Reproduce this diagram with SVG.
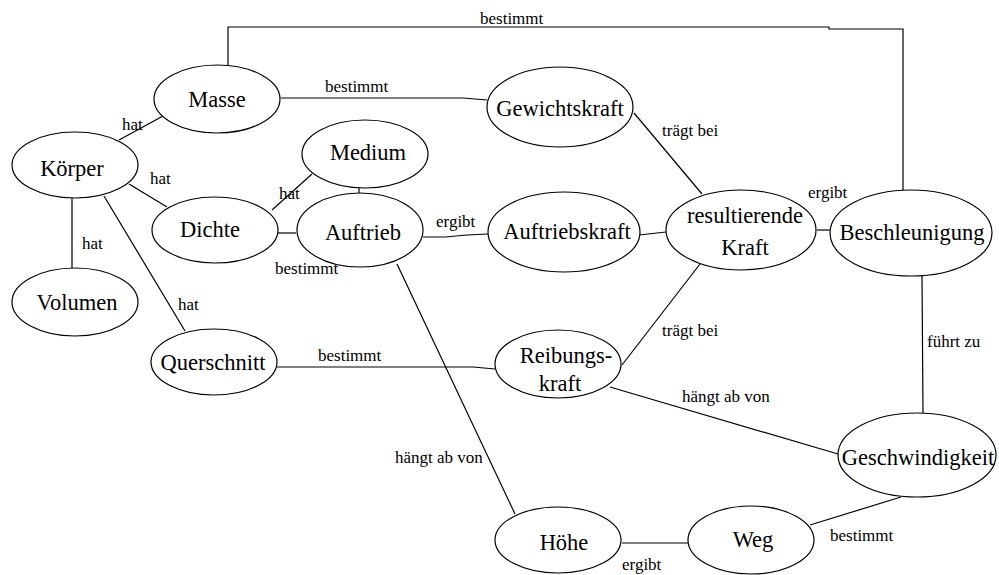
<svg xmlns="http://www.w3.org/2000/svg" width="999" height="575" viewBox="0 0 999 575">
<style>
.n{fill:#fff;stroke:#000;stroke-width:1.2}
.t{font-size:22.5px;fill:#000;text-anchor:middle}
.l{font-size:17px;fill:#000}
.c{fill:none;stroke:#000;stroke-width:1.2}
</style>
<rect width="999" height="575" fill="#fff"/>
<g id="connectors">
<polyline class="c" points="228,65 228,27 829,27 829,29 903,29 903,190"/>
<polyline class="c" points="281,98 463,98 487,100"/>
<line class="c" x1="119" y1="140" x2="163" y2="116"/>
<line class="c" x1="129" y1="184" x2="167" y2="207"/>
<line class="c" x1="72" y1="198" x2="72" y2="268"/>
<line class="c" x1="104" y1="196" x2="185" y2="331"/>
<line class="c" x1="272" y1="210" x2="312" y2="174"/>
<line class="c" x1="278" y1="233" x2="296" y2="233"/>
<line class="c" x1="359" y1="188" x2="359" y2="193"/>
<polyline class="c" points="423,237 445,237 467,235 488,234"/>
<line class="c" x1="639" y1="235" x2="666" y2="232"/>
<line class="c" x1="817" y1="230" x2="830" y2="230"/>
<line class="c" x1="634" y1="113" x2="702" y2="194"/>
<line class="c" x1="622" y1="365" x2="700" y2="264"/>
<polyline class="c" points="277,367 473,367 495,369"/>
<line class="c" x1="397" y1="264" x2="515" y2="514"/>
<line class="c" x1="610" y1="387" x2="838" y2="454"/>
<line class="c" x1="922" y1="276" x2="923" y2="413"/>
<line class="c" x1="622" y1="543" x2="688" y2="543"/>
<line class="c" x1="810" y1="525" x2="901" y2="497"/>
</g>
<g id="labels" font-family="Liberation Serif, DejaVu Serif, serif">
<text class="l" x="480" y="24">bestimmt</text>
<text class="l" x="325" y="92">bestimmt</text>
<text class="l" x="122" y="130">hat</text>
<text class="l" x="150" y="184">hat</text>
<text class="l" x="82" y="249">hat</text>
<text class="l" x="178" y="310">hat</text>
<text class="l" x="279" y="199">hat</text>
<text class="l" x="275" y="274">bestimmt</text>
<text class="l" x="436" y="227">ergibt</text>
<text class="l" x="808" y="198">ergibt</text>
<text class="l" x="662" y="136">trägt bei</text>
<text class="l" x="662" y="336">trägt bei</text>
<text class="l" x="318" y="361">bestimmt</text>
<text class="l" x="395" y="463">hängt ab von</text>
<text class="l" x="682" y="402">hängt ab von</text>
<text class="l" x="927" y="347">führt zu</text>
<text class="l" x="622" y="570">ergibt</text>
<text class="l" x="830" y="541">bestimmt</text>
</g>
<g id="nodes" font-family="Liberation Serif, DejaVu Serif, serif">
<g id="masse"><ellipse class="n" cx="217" cy="99" rx="63" ry="34"/><text class="t" x="217" y="107">Masse</text></g>
<g id="koerper"><ellipse class="n" cx="75" cy="165" rx="63" ry="33"/><text class="t" x="72" y="176">Körper</text></g>
<g id="gewichtskraft"><ellipse class="n" cx="560" cy="107" rx="73" ry="40"/><text class="t" x="560" y="116">Gewichtskraft</text></g>
<g id="medium"><ellipse class="n" cx="365" cy="154" rx="63" ry="34"/><text class="t" x="368" y="160">Medium</text></g>
<g id="dichte"><ellipse class="n" cx="215" cy="230" rx="63" ry="33"/><text class="t" x="210" y="237">Dichte</text></g>
<g id="volumen"><ellipse class="n" cx="75" cy="302" rx="63" ry="34"/><text class="t" x="77" y="310">Volumen</text></g>
<g id="querschnitt"><ellipse class="n" cx="214" cy="362" rx="63" ry="33"/><text class="t" x="213" y="370">Querschnitt</text></g>
<g id="auftrieb"><ellipse class="n" cx="360" cy="230" rx="63" ry="37"/><text class="t" x="363" y="240">Auftrieb</text></g>
<g id="auftriebskraft"><ellipse class="n" cx="564" cy="232" rx="76" ry="40"/><text class="t" x="567" y="239">Auftriebskraft</text></g>
<g id="resultierende"><ellipse class="n" cx="741" cy="230" rx="75" ry="40"/><text class="t" x="745" y="223">resultierende</text><text class="t" x="745" y="255">Kraft</text></g>
<g id="beschleunigung"><ellipse class="n" cx="911" cy="233" rx="81" ry="43"/><text class="t" x="912" y="240">Beschleunigung</text></g>
<g id="reibungskraft"><ellipse class="n" cx="558" cy="364" rx="63" ry="34"/><text class="t" x="566" y="363">Reibungs-</text><text class="t" x="560" y="391">kraft</text></g>
<g id="hoehe"><ellipse class="n" cx="558" cy="540" rx="63" ry="33"/><text class="t" x="564" y="550">Höhe</text></g>
<g id="weg"><ellipse class="n" cx="751" cy="540" rx="63" ry="34"/><text class="t" x="753" y="547">Weg</text></g>
<g id="geschwindigkeit"><ellipse class="n" cx="917" cy="455" rx="79" ry="42"/><text class="t" x="918" y="465">Geschwindigkeit</text></g>
</g>
</svg>
